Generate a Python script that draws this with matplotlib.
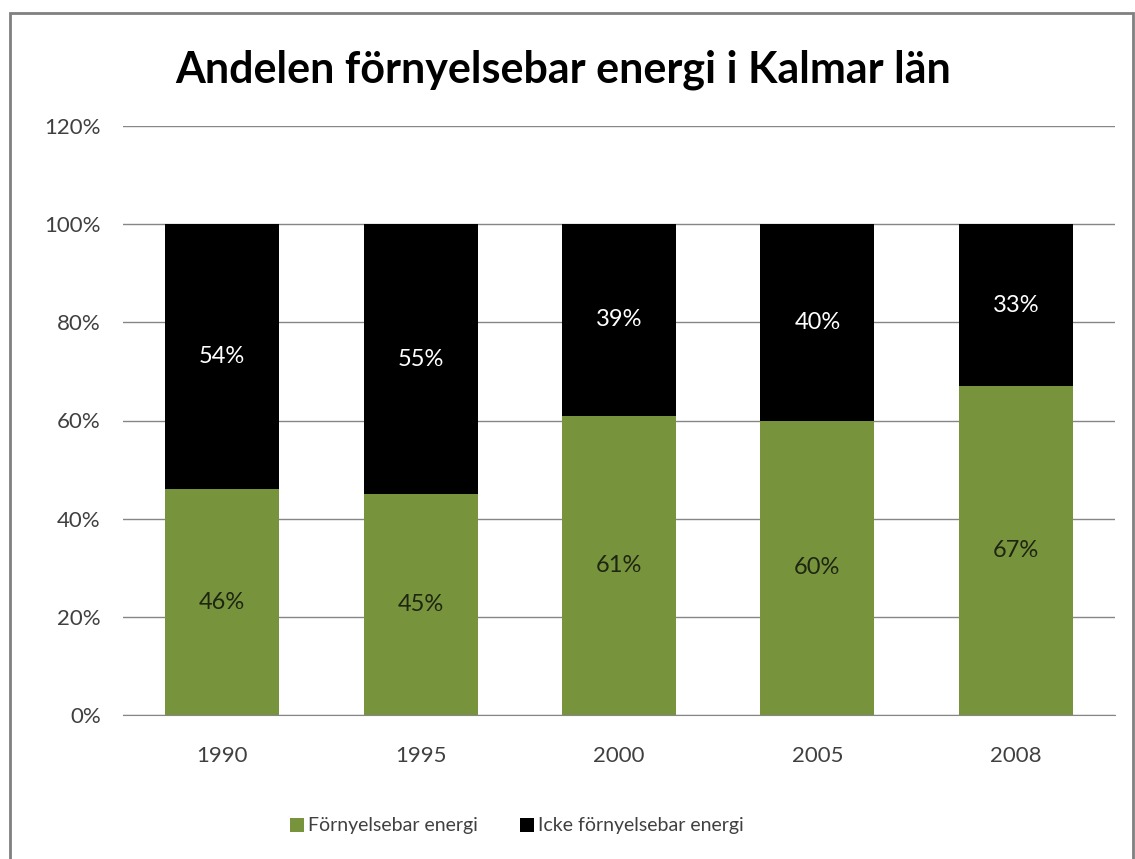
import matplotlib.pyplot as plt
import numpy as np

# data
years = ['1990', '1995', '2000', '2005', '2008']
fornybar = [46, 45, 61, 60, 67]
icke_fornybar = [54, 55, 39, 40, 33]

plt.rcParams['font.family'] = ['Lato', 'DejaVu Sans']

fig = plt.figure(figsize=(11.35, 8.59), dpi=100)
ax = fig.add_axes([123 / 1135, 1 - 715 / 859, (1115 - 123) / 1135, (715 - 126) / 859])

x = np.arange(len(years))
green = '#77933C'
ax.bar(x, fornybar, width=0.575, color=green, label='Förnyelsebar energi', zorder=2)
ax.bar(x, icke_fornybar, width=0.575, bottom=fornybar, color='black',
       label='Icke förnyelsebar energi', zorder=2)

# data labels
for i in range(len(years)):
    ax.text(x[i], fornybar[i] / 2, f'{fornybar[i]}%', ha='center', va='center',
            fontsize=17, color='#1e2612', zorder=3)
    ax.text(x[i], fornybar[i] + icke_fornybar[i] / 2, f'{icke_fornybar[i]}%',
            ha='center', va='center', fontsize=17, color='white', zorder=3)

ax.set_xlim(-0.5, len(years) - 0.5)
ax.set_ylim(0, 120)
ax.set_yticks(range(0, 121, 20))
ax.set_yticklabels([f'{v}%' for v in range(0, 121, 20)])
ax.set_xticks(x)
ax.set_xticklabels(years)
ax.tick_params(axis='both', length=0, labelsize=16, labelcolor='#404040')
ax.tick_params(axis='y', pad=16)
ax.tick_params(axis='x', pad=22)
ax.yaxis.grid(True, color='#868686', linewidth=1)
ax.set_axisbelow(True)
for s in ['top', 'right', 'left']:
    ax.spines[s].set_visible(False)
ax.spines['bottom'].set_color('#868686')

fig.text(563 / 1135, 1 - 70 / 859, 'Andelen förnyelsebar energi i Kalmar län',
         ha='center', va='center', fontsize=31, fontweight='bold')

fig.legend(loc='center', bbox_to_anchor=(517 / 1135, 1 - 826 / 859), ncol=2,
           frameon=False, fontsize=14, handlelength=0.7, handleheight=0.7,
           handletextpad=0.2, columnspacing=2.2, labelcolor='#404040')

# border round the chart
fig.patches.append(plt.Rectangle((10 / 1135, -0.01), 1123 / 1135, 1 - 13 / 859 + 0.01,
                                 transform=fig.transFigure, fill=False,
                                 edgecolor='#808080', linewidth=2))

fig.savefig('out.png', dpi=100)
